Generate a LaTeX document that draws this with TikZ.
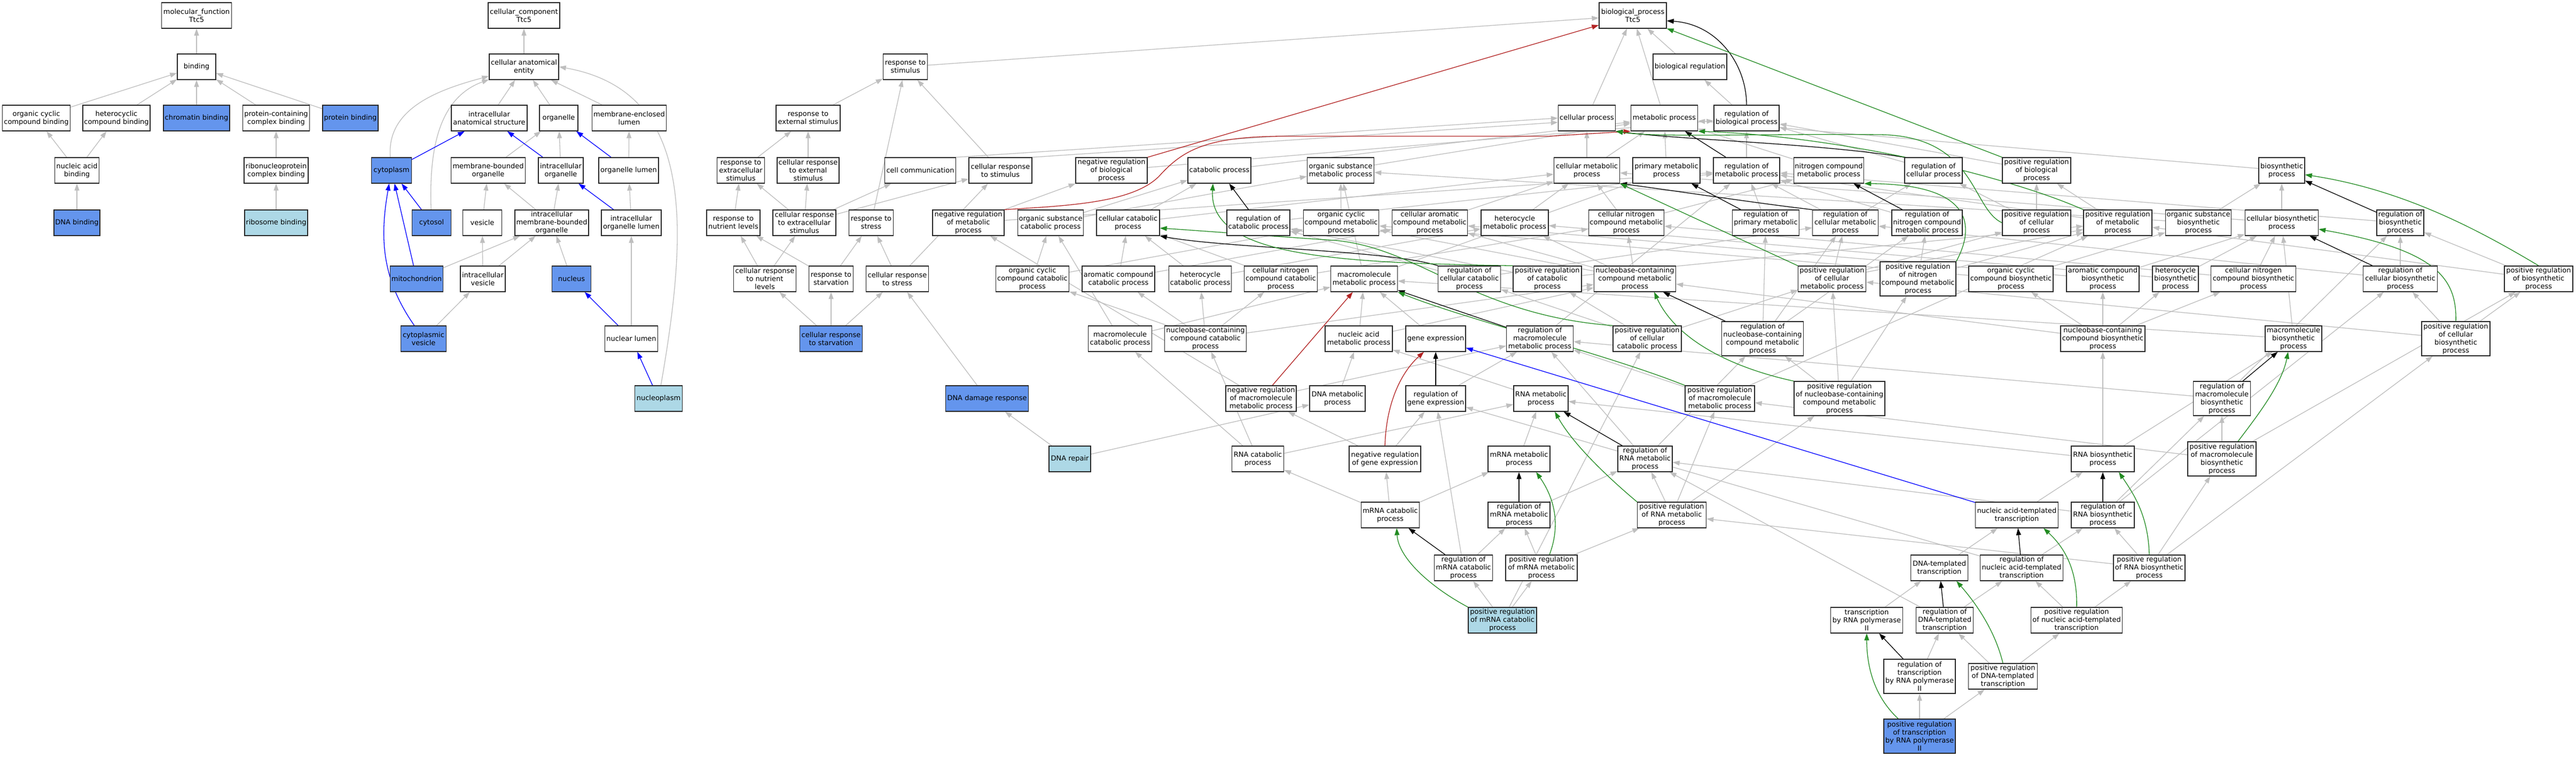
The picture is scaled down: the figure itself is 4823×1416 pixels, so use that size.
\documentclass[tikz,border=0pt]{standalone}
\usepackage{fontspec}
\setmainfont{DejaVu Sans}
\usetikzlibrary{arrows.meta}
\definecolor{edgegray}{RGB}{190,190,190}
\definecolor{fgreen}{RGB}{34,139,34}
\definecolor{fred}{RGB}{178,34,34}
\definecolor{cblue}{RGB}{100,149,237}
\definecolor{lblue}{RGB}{173,216,230}
\pgfdeclarelayer{bg}
\pgfsetlayers{bg,main}
\tikzset{
  gobox/.style={draw=black!85, line width=1.3pt, fill=white, align=center, inner xsep=2pt, inner ysep=1pt, minimum height=48pt, font=\fontsize{13}{15}\selectfont},
  bluebox/.style={fill=cblue},
  lbbox/.style={fill=lblue},
  tall/.style={minimum height=64pt},
  ga/.style={draw=edgegray, line width=1.3pt, -{Triangle[length=13pt,width=9pt]}},
  ka/.style={ga, draw=black},
  ra/.style={ga, draw=fred},
  gra/.style={ga, draw=fgreen},
  ba/.style={ga, draw=blue},
}
\newcommand{\gonode}[6]{\node[gobox,#1,minimum width=#5pt] (#2) at (#3,-#4) {#6};}
\newcommand{\gedges}[2]{\foreach \tgt in {#2}{\draw[ga] (#1) -- (\tgt);}}
\begin{document}
\begin{tikzpicture}[x=1pt,y=1pt]
\useasboundingbox (0,0) rectangle (4823,-1416);
% ---------------- molecular function
\gonode{}{mf}{368}{29}{131}{molecular\_function\\Ttc5}
\gonode{}{bind}{368}{125}{72}{binding}
\gonode{}{ocb}{68}{221}{127}{organic cyclic\\compound binding}
\gonode{}{hcb}{218}{221}{126}{heterocyclic\\compound binding}
\gonode{bluebox}{chb}{368}{221}{124}{chromatin binding}
\gonode{}{pcb}{517}{221}{125}{protein-containing\\complex binding}
\gonode{bluebox}{pb}{656}{221}{104}{protein binding}
\gonode{}{nab}{144}{319}{83}{nucleic acid\\binding}
\gonode{}{rcb}{517}{319}{120}{ribonucleoprotein\\complex binding}
\gonode{bluebox}{dnab}{144}{417}{86}{DNA binding}
\gonode{lbbox}{rib}{517}{417}{118}{ribosome binding}
% ---------------- cellular component
\gonode{}{cc}{981}{29}{134}{cellular\_component\\Ttc5}
\gonode{}{cae}{981}{125}{130}{cellular anatomical\\entity}
\gonode{}{ias}{916}{221}{142}{intracellular\\anatomical structure}
\gonode{}{org}{1046}{221}{72}{organelle}
\gonode{}{mel}{1178}{221}{139}{membrane-enclosed\\lumen}
\gonode{bluebox}{cyto}{733}{319}{75}{cytoplasm}
\gonode{}{mbo}{914}{319}{139}{membrane-bounded\\organelle}
\gonode{}{io}{1050}{319}{84}{intracellular\\organelle}
\gonode{}{ol}{1177}{319}{112}{organelle lumen}
\gonode{bluebox}{cytosol}{808}{417}{73}{cytosol}
\gonode{}{ves}{903}{417}{73}{vesicle}
\gonode{}{imbo}{1033}{417}{138}{intracellular\\membrane-bounded\\organelle}
\gonode{}{iol}{1182}{417}{112}{intracellular\\organelle lumen}
\gonode{bluebox}{mito}{780}{522}{99}{mitochondrion}
\gonode{}{iv}{904}{522}{84}{intracellular\\vesicle}
\gonode{bluebox}{nuc}{1070}{522}{73}{nucleus}
\gonode{bluebox}{cv}{793}{634}{85}{cytoplasmic\\vesicle}
\gonode{}{nl}{1182}{634}{99}{nuclear lumen}
\gonode{lbbox}{np}{1233}{746}{89}{nucleoplasm}
% ---------------- biological process
\gonode{}{bp}{3057}{29}{126}{biological\_process\\Ttc5}
\gonode{}{rs}{1695}{125}{83}{response to\\stimulus}
\gonode{}{breg}{3164}{125}{138}{biological regulation}
\gonode{}{rex}{1513}{221}{120}{response to\\external stimulus}
\gonode{}{cp}{2971}{221}{107}{cellular process}
\gonode{}{mp}{3116}{221}{125}{metabolic process}
\gonode{}{rbp}{3270}{221}{122}{regulation of\\biological process}
% R3
\gonode{}{rexc}{1387}{319}{89}{response to\\extracellular\\stimulus}
\gonode{}{crex}{1513}{319}{116}{cellular response\\to external\\stimulus}
\gonode{}{ccom}{1723}{319}{133}{cell communication}
\gonode{}{crs}{1873}{319}{118}{cellular response\\to stimulus}
\gonode{}{nrbp}{2081}{319}{134}{negative regulation\\of biological\\process}
\gonode{}{catp}{2283}{319}{118}{catabolic process}
\gonode{}{osmp}{2510}{319}{125}{organic substance\\metabolic process}
\gonode{}{cmp}{2971}{319}{123}{cellular metabolic\\process}
\gonode{}{pmp}{3120}{319}{126}{primary metabolic\\process}
\gonode{}{rmp}{3270}{319}{124}{regulation of\\metabolic process}
\gonode{}{ncmp}{3424}{319}{131}{nitrogen compound\\metabolic process}
\gonode{}{rcp}{3620}{319}{108}{regulation of\\cellular process}
\gonode{}{prbp}{3813}{319}{128}{positive regulation\\of biological\\process}
\gonode{}{bsp}{4272}{319}{86}{biosynthetic\\process}
% R4
\gonode{}{rnl}{1373}{417}{100}{response to\\nutrient levels}
\gonode{}{crexc}{1506}{417}{118}{cellular response\\to extracellular\\stimulus}
\gonode{}{rst}{1631}{417}{83}{response to\\stress}
\gonode{}{nrmp}{1813}{417}{134}{negative regulation\\of metabolic\\process}
\gonode{}{oscp}{1967}{417}{123}{organic substance\\catabolic process}
\gonode{}{ccp}{2112}{417}{118}{cellular catabolic\\process}
\gonode{}{rcatp}{2356}{417}{118}{regulation of\\catabolic process}
\gonode{}{occmp}{2511}{417}{141}{organic cyclic\\compound metabolic\\process}
\gonode{}{cacmp}{2677}{417}{141}{cellular aromatic\\compound metabolic\\process}
\gonode{}{hmp}{2836}{417}{126}{heterocycle\\metabolic process}
\gonode{}{cncmp}{3045}{417}{141}{cellular nitrogen\\compound metabolic\\process}
\gonode{}{rpmp}{3306}{417}{125}{regulation of\\primary metabolic\\process}
\gonode{}{rcmp}{3455}{417}{123}{regulation of\\cellular metabolic\\process}
\gonode{}{rncmp}{3608}{417}{132}{regulation of\\nitrogen compound\\metabolic process}
\gonode{}{prcp}{3813}{417}{128}{positive regulation\\of cellular\\process}
\gonode{}{prmp}{3965}{417}{128}{positive regulation\\of metabolic\\process}
\gonode{}{osbp}{4116}{417}{122}{organic substance\\biosynthetic\\process}
\gonode{}{cbp}{4272}{417}{137}{cellular biosynthetic\\process}
\gonode{}{rbsp}{4494}{417}{88}{regulation of\\biosynthetic\\process}
% R5
\gonode{}{crnl}{1432}{522}{117}{cellular response\\to nutrient\\levels}
\gonode{}{rsv}{1556}{522}{83}{response to\\starvation}
\gonode{}{crst}{1680}{522}{117}{cellular response\\to stress}
\gonode{}{occcp}{1933}{522}{137}{organic cyclic\\compound catabolic\\process}
\gonode{}{accp}{2094}{522}{136}{aromatic compound\\catabolic process}
\gonode{}{hcp}{2247}{522}{117}{heterocycle\\catabolic process}
\gonode{}{cnccp}{2398}{522}{137}{cellular nitrogen\\compound catabolic\\process}
\gonode{}{mmp}{2554}{522}{125}{macromolecule\\metabolic process}
\gonode{}{rccp}{2751}{522}{117}{regulation of\\cellular catabolic\\process}
\gonode{}{prcatp}{2897}{522}{128}{positive regulation\\of catabolic\\process}
\gonode{}{nbcmp}{3061}{522}{153}{nucleobase-containing\\compound metabolic\\process}
\gonode{}{prcmp}{3430}{522}{127}{positive regulation\\of cellular\\metabolic process}
\gonode{tall}{prncmp}{3591}{522}{142}{positive regulation\\of nitrogen\\compound metabolic\\process}
\gonode{}{occbp}{3765}{522}{158}{organic cyclic\\compound biosynthetic\\process}
\gonode{}{acbp}{3937}{522}{136}{aromatic compound\\biosynthetic\\process}
\gonode{}{hbp}{4073}{522}{86}{heterocycle\\biosynthetic\\process}
\gonode{}{cncbp}{4219}{522}{159}{cellular nitrogen\\compound biosynthetic\\process}
\gonode{}{rcbp}{4494}{522}{139}{regulation of\\cellular biosynthetic\\process}
\gonode{}{prbsp}{4753}{522}{128}{positive regulation\\of biosynthetic\\process}
% R6
\gonode{bluebox}{csv}{1556}{634}{117}{cellular response\\to starvation}
\gonode{}{mcp}{2097}{634}{119}{macromolecule\\catabolic process}
\gonode{}{nbccp}{2257}{634}{153}{nucleobase-containing\\compound catabolic\\process}
\gonode{}{namp}{2544}{634}{126}{nucleic acid\\metabolic process}
\gonode{}{ge}{2688}{634}{112}{gene expression}
\gonode{}{rmmp}{2883}{634}{125}{regulation of\\macromolecule\\metabolic process}
\gonode{}{prccp}{3084}{634}{128}{positive regulation\\of cellular\\catabolic process}
\gonode{tall}{rnbcmp}{3300}{634}{153}{regulation of\\nucleobase-containing\\compound metabolic\\process}
\gonode{}{nbcbp}{3937}{634}{158}{nucleobase-containing\\compound biosynthetic\\process}
\gonode{}{mbp}{4294}{634}{106}{macromolecule\\biosynthetic\\process}
\gonode{tall}{prcbp}{4598}{634}{128}{positive regulation\\of cellular\\biosynthetic\\process}
% R7
\gonode{bluebox}{ddr}{1848}{746}{155}{DNA damage response}
\gonode{}{nrmmp}{2361}{746}{132}{negative regulation\\of macromolecule\\metabolic process}
\gonode{}{dmp}{2504}{746}{104}{DNA metabolic\\process}
\gonode{}{rge}{2688}{746}{112}{regulation of\\gene expression}
\gonode{}{rnamp}{2885}{746}{102}{RNA metabolic\\process}
\gonode{}{prmmp}{3220}{746}{130}{positive regulation\\of macromolecule\\metabolic process}
\gonode{tall}{prnbcmp}{3444}{746}{170}{positive regulation\\of nucleobase-containing\\compound metabolic\\process}
\gonode{tall}{rmbp}{4160}{746}{107}{regulation of\\macromolecule\\biosynthetic\\process}
% R8
\gonode{lbbox}{drep}{2003}{859}{78}{DNA repair}
\gonode{}{rnacp}{2355}{859}{97}{RNA catabolic\\process}
\gonode{}{nrge}{2593}{859}{134}{negative regulation\\of gene expression}
\gonode{}{mrmp}{2844}{859}{116}{mRNA metabolic\\process}
\gonode{}{rrmp}{3080}{859}{102}{regulation of\\RNA metabolic\\process}
\gonode{}{rnabp}{3937}{859}{118}{RNA biosynthetic\\process}
\gonode{tall}{prmbp}{4160}{859}{128}{positive regulation\\of macromolecule\\biosynthetic\\process}
% R9
\gonode{}{mrcp}{2603}{964}{109}{mRNA catabolic\\process}
\gonode{}{rmrmp}{2844}{964}{116}{regulation of\\mRNA metabolic\\process}
\gonode{}{prrmp}{3130}{964}{129}{positive regulation\\of RNA metabolic\\process}
\gonode{}{nat}{3776}{964}{155}{nucleic acid-templated\\transcription}
\gonode{}{rrbp}{3937}{964}{118}{regulation of\\RNA biosynthetic\\process}
% R10
\gonode{}{rmrcp}{2740}{1063}{109}{regulation of\\mRNA catabolic\\process}
\gonode{}{prmrmp}{2886}{1063}{134}{positive regulation\\of mRNA metabolic\\process}
\gonode{}{dtt}{3631}{1063}{107}{DNA-templated\\transcription}
\gonode{}{rnat}{3785}{1063}{155}{regulation of\\nucleic acid-templated\\transcription}
\gonode{}{prrbp}{4024}{1063}{134}{positive regulation\\of RNA biosynthetic\\process}
% R11
\gonode{lbbox}{prmrcp}{2813}{1161}{128}{positive regulation\\of mRNA catabolic\\process}
\gonode{}{trp}{3495}{1161}{135}{transcription\\by RNA polymerase\\II}
\gonode{}{rdtt}{3641}{1161}{107}{regulation of\\DNA-templated\\transcription}
\gonode{}{pnat}{3888}{1161}{171}{positive regulation\\of nucleic acid-templated\\transcription}
% R12
\gonode{tall}{rtrp}{3594}{1266}{134}{regulation of\\transcription\\by RNA polymerase\\II}
\gonode{}{pdtt}{3750}{1266}{129}{positive regulation\\of DNA-templated\\transcription}
% R13
\gonode{tall,bluebox}{ptrp}{3594}{1378}{134}{positive regulation\\of transcription\\by RNA polymerase\\II}

\begin{pgfonlayer}{bg}
\fill[white] (0,0) rectangle (4823,-1416);
% ---- MF
\gedges{bind}{mf}
\gedges{ocb}{bind}
\gedges{hcb}{bind}
\gedges{chb}{bind}
\gedges{pcb}{bind}
\gedges{pb}{bind}
\gedges{nab}{ocb,hcb}
\gedges{dnab}{nab}
\gedges{rcb}{pcb}
\gedges{rib}{rcb}
% ---- CC
\gedges{cae}{cc}
\gedges{ias}{cae}
\gedges{org}{cae}
\gedges{mel}{cae}
\draw[ga] (cyto) to[out=95,in=195] (cae);
\draw[ga] (cytosol) to[out=92,in=200] (cae);
\gedges{mbo}{org}
\gedges{io}{org}
\gedges{ol}{mel}
\gedges{ves}{mbo}
\gedges{imbo}{mbo,io}
\gedges{iol}{ol}
\gedges{mito}{imbo}
\gedges{iv}{ves,imbo}
\gedges{nuc}{imbo}
\gedges{cv}{iv}
\gedges{nl}{iol}
\draw[ga] (np) .. controls (1290,-420) and (1300,-170) .. (cae.east);
\draw[ba] (cyto) -- (ias);
\draw[ba] (io) -- (ias);
\draw[ba] (ol) -- (org);
\draw[ba] (iol) -- (io);
\draw[ba] (cytosol) -- (cyto);
\draw[ba] (mito) -- (cyto);
\draw[ba] (cv) to[out=125,in=-100] (cyto);
\draw[ba] (nl) -- (nuc);
\draw[ba] (np) -- (nl);
% ---- BP gray
\gedges{rs}{bp}
\gedges{breg}{bp}
\gedges{cp}{bp}
\gedges{mp}{bp}
\gedges{rbp}{breg}
\gedges{rex}{rs}
\gedges{rexc}{rex}
\gedges{crex}{rex}
\draw[ga] (ccom.north east) -- (cp.west);
\draw[ga] (crs.north east) -- ([yshift=-8pt]cp.west);
\gedges{crs}{rs}
\gedges{nrbp}{rbp}
\gedges{catp}{mp}
\gedges{osmp}{mp}
\gedges{cmp}{cp,mp}
\gedges{pmp}{mp}
\gedges{rmp}{rbp}
\gedges{ncmp}{mp}
\gedges{rcp}{rbp}
\gedges{prbp}{rbp}
\gedges{bsp}{mp}
\gedges{rnl}{rexc}
\gedges{crexc}{rexc,crex,ccom,crs}
\gedges{rst}{rs}
\gedges{nrmp}{nrbp,rmp}
\gedges{oscp}{catp,osmp}
\gedges{ccp}{catp,cmp}
\gedges{rcatp}{rmp}
\gedges{occmp}{osmp}
\gedges{cacmp}{cmp}
\gedges{hmp}{cmp}
\gedges{cncmp}{cmp,ncmp}
\gedges{rpmp}{rmp}
\gedges{rcmp}{rmp,rcp}
\gedges{rncmp}{rmp}
\gedges{prcp}{prbp,rcp}
\gedges{prmp}{prbp,rmp}
\gedges{osbp}{bsp,osmp}
\gedges{cbp}{bsp,cmp}
\gedges{rbsp}{rmp}
\gedges{crnl}{rnl,crexc}
\gedges{rsv}{rnl,rst}
\gedges{crst}{rst,crs}
\gedges{occcp}{oscp,occmp}
\gedges{accp}{ccp,cacmp}
\gedges{hcp}{ccp,hmp}
\gedges{cnccp}{ccp,cncmp}
\gedges{mmp}{osmp,pmp}
\gedges{rccp}{rcatp,rcmp}
\gedges{prcatp}{rcatp,prmp}
\gedges{nbcmp}{occmp,cacmp,hmp,cncmp}
\gedges{prcmp}{rcmp,prcp,prmp}
\gedges{prncmp}{rncmp,prmp}
\gedges{occbp}{osbp,occmp}
\gedges{acbp}{cbp,cacmp}
\gedges{hbp}{cbp,hmp}
\gedges{cncbp}{cbp,cncmp}
\gedges{rcbp}{rbsp,rcmp}
\gedges{prbsp}{rbsp,prmp}
\gedges{csv}{crnl,rsv,crst}
\gedges{mcp}{oscp,mmp}
\gedges{nbccp}{occcp,accp,hcp,cnccp,nbcmp}
\gedges{namp}{nbcmp,mmp}
\gedges{ge}{mmp}
\gedges{rmmp}{rmp}
\gedges{prccp}{rccp,prcatp,prcmp}
\gedges{rnbcmp}{rcmp,rncmp,rpmp}
\gedges{nbcbp}{occbp,acbp,hbp,cncbp,nbcmp}
\gedges{mbp}{cbp,mmp}
\gedges{prcbp}{rcbp,prbsp,prcmp}
\gedges{ddr}{crst}
\gedges{nrmmp}{rmmp,nrmp}
\gedges{dmp}{namp}
\gedges{rge}{rmmp}
\gedges{rnamp}{namp}
\gedges{prmmp}{rmmp,prmp}
\gedges{prnbcmp}{rnbcmp,prcmp,prncmp}
\gedges{rmbp}{rbsp,rmmp}
\gedges{drep}{ddr,dmp}
\gedges{rnacp}{mcp,nbccp,rnamp}
\gedges{nrge}{rge,nrmmp}
\gedges{mrmp}{rnamp}
\gedges{rrmp}{rnbcmp,rmmp}
\gedges{rnabp}{nbcbp,mbp,rnamp}
\gedges{prmbp}{rmbp,prbsp,prmmp}
\gedges{mrcp}{rnacp,nrge,mrmp}
\gedges{rmrmp}{rrmp}
\gedges{prrmp}{rrmp,prnbcmp,prmmp}
\gedges{nat}{rnabp}
\gedges{rrbp}{rcbp,rmbp,rrmp}
\gedges{rmrcp}{rge,rmrmp}
\gedges{prmrmp}{rmrmp,prrmp}
\gedges{dtt}{nat}
\gedges{rnat}{rrbp,rge}
\gedges{prrbp}{rrbp,prrmp,prmbp,prcbp}
\gedges{prmrcp}{rmrcp,prmrmp,prccp}
\gedges{trp}{dtt}
\gedges{rdtt}{rnat,rrmp}
\gedges{pnat}{rnat,prrbp}
\gedges{rtrp}{rdtt}
\gedges{pdtt}{rdtt,pnat}
\gedges{ptrp}{rtrp,pdtt}
% ---- BP black (regulates)
\draw[ka] (rbp.north) .. controls (3270,-120) and (3215,-45) .. ([yshift=-10pt]bp.east);
\draw[ka] (rcatp) -- (catp);
\draw[ka] (rccp.north west) .. controls (2600,-468) and (2300,-465) .. (ccp.south east);
\draw[ka] (rmp) -- (mp);
\draw[ka] (rcmp.north west) .. controls (3300,-382) and (3100,-352) .. (cmp.south east);
\draw[ka] (rpmp) -- (pmp);
\draw[ka] (rncmp) -- (ncmp);
\draw[ka] (rcp.north west) .. controls (3400,-268) and (3150,-262) .. (cp.south east);
\draw[ka] (rmmp) -- (mmp);
\draw[ka] (rnbcmp) -- (nbcmp);
\draw[ka] (rge) -- (ge);
\draw[ka] (rrmp) -- (rnamp);
\draw[ka] (rmrmp) -- (mrmp);
\draw[ka] (rmrcp) -- (mrcp);
\draw[ka] (rbsp) -- (bsp);
\draw[ka] (rcbp) -- (cbp);
\draw[ka] (rmbp) -- (mbp);
\draw[ka] (rrbp) -- (rnabp);
\draw[ka] (rnat) -- (nat);
\draw[ka] (rdtt) -- (dtt);
\draw[ka] (rtrp) -- (trp);
% ---- BP red (negatively regulates)
\draw[ra] (nrbp.north east) -- ([yshift=-18pt]bp.west);
\draw[ra] (nrmp.north east) .. controls (2000,-385) and (2120,-380) .. (2170,-330) .. controls (2215,-280) and (2260,-256) .. (2400,-255) -- (2900,-255) -- (mp.south west);
\draw[ra] (nrmmp) -- (mmp);
\draw[ra] (nrge.north) .. controls (2595,-760) and (2620,-700) .. ([xshift=-22pt]ge.south);
% ---- BP green (positively regulates)
\draw[gra] (prbp) -- (bp);
\draw[gra] (prcp.west) .. controls (3690,-390) and (3700,-255) .. (3520,-252) .. controls (3300,-250) and (3100,-258) .. (cp.south east);
\draw[gra] (prmp.north west) .. controls (3760,-330) and (3450,-255) .. (mp.south east);
\draw[gra] (prcatp.north west) .. controls (2500,-492) and (2262,-480) .. ([xshift=-12pt]catp.south);
\draw[gra] (prccp.north west) .. controls (2760,-590) and (2660,-465) .. (2500,-450) .. controls (2350,-440) and (2250,-432) .. ([yshift=-10pt]ccp.east);
\draw[gra] (prcmp.north west) -- (cmp.south east);
\draw[gra] (prncmp.north east) .. controls (3700,-420) and (3690,-345) .. (ncmp.south east);
\draw[gra] (prmmp.north west) .. controls (3000,-660) and (2750,-600) .. (mmp.south east);
\draw[gra] (prnbcmp.north west) .. controls (3250,-690) and (3140,-640) .. ([xshift=36pt]nbcmp.south);
\draw[gra] (prrmp.north west) .. controls (3030,-910) and (2950,-840) .. ([xshift=26pt]rnamp.south);
\draw[gra] ([xshift=15pt]prmrmp.north) .. controls (2925,-975) and (2905,-925) .. ([xshift=32pt]mrmp.south);
\draw[gra] (prmrcp.north west) .. controls (2680,-1100) and (2618,-1045) .. ([xshift=12pt]mrcp.south);
\draw[gra] (prbsp.north) .. controls (4640,-430) and (4500,-355) .. ([yshift=-8pt]bsp.east);
\draw[gra] (prcbp.north) .. controls (4600,-520) and (4560,-468) .. ([yshift=-12pt]cbp.east);
\draw[gra] ([xshift=30pt]prmbp.north) .. controls (4225,-780) and (4272,-720) .. ([xshift=-10pt]mbp.south);
\draw[gra] (prrbp.north) .. controls (4022,-965) and (3995,-925) .. ([xshift=30pt]rnabp.south);
\draw[gra] (pnat.north) .. controls (3890,-1060) and (3860,-1020) .. ([xshift=50pt]nat.south);
\draw[gra] (pdtt.north) .. controls (3735,-1180) and (3700,-1130) .. ([xshift=32pt]dtt.south);
\draw[gra] ([xshift=-40pt]ptrp.north) .. controls (3505,-1300) and (3495,-1240) .. (trp.south);
% ---- BP blue (part of)
\draw[ba] (nat) -- (ge);
\end{pgfonlayer}
\end{tikzpicture}
\end{document}
